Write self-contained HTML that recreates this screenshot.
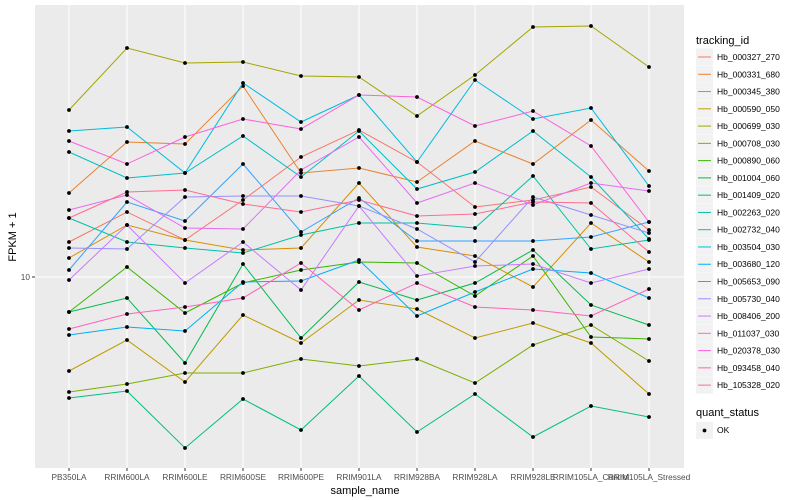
<!DOCTYPE html>
<html><head><meta charset="utf-8"><style>
body{margin:0;background:#fff;}
svg{display:block;font-family:"Liberation Sans",sans-serif;}
</style></head><body>
<svg id="chart" width="800" height="500">
<rect x="35" y="5" width="649" height="463" fill="#ebebeb"/>
<g id="grid"></g><g id="series"></g><g id="xaxis"></g><g id="yaxis"></g><g id="legend"></g>
<text x="365" y="494" text-anchor="middle" font-size="11" fill="#000">sample_name</text>
<text transform="translate(16,237) rotate(-90)" text-anchor="middle" font-size="11" fill="#000">FPKM + 1</text>
</svg>
<script>
const categories=["PB350LA","RRIM600LA","RRIM600LE","RRIM600SE","RRIM600PE","RRIM901LA","RRIM928BA","RRIM928LA","RRIM928LE","RRIM105LA_Control","RRIM105LA_Stressed"];
const seriesNames=["Hb_000327_270","Hb_000331_680","Hb_000345_380","Hb_000590_050","Hb_000699_030","Hb_000708_030","Hb_000890_060","Hb_001004_060","Hb_001409_020","Hb_002263_020","Hb_002732_040","Hb_003504_030","Hb_003680_120","Hb_005653_090","Hb_005730_040","Hb_008406_200","Hb_011037_030","Hb_020378_030","Hb_093458_040","Hb_105328_020"];
const seriesColors=["#F8766D","#EA8331","#D89000","#C09B00","#A3A500","#7CAE00","#39B600","#00BB4E","#00BF7D","#00C1A3","#00BFC4","#00BAE0","#00B0F6","#35A2FF","#9590FF","#C77CFF","#E76BF3","#FA62DB","#FF62BC","#FF6C91"];
// log10(FPKM + 1) values per series
const s000327=[1.175,1.325,1.185,1.385,1.60,1.735,1.575,1.35,1.385,1.45,1.235];
const s000331=[1.42,1.675,1.665,1.955,1.52,1.545,1.475,1.68,1.565,1.785,1.53];
const s000345=[1.095,1.26,1.185,1.135,1.145,1.47,1.15,1.105,0.95,1.27,1.075];
const s000590=[0.53,0.685,0.475,0.81,0.67,0.885,0.84,0.695,0.77,0.67,0.415];
const s000699=[1.835,2.145,2.07,2.075,2.005,2.0,1.805,2.01,2.25,2.255,2.05];
const s000708=[0.425,0.465,0.52,0.52,0.59,0.555,0.59,0.47,0.66,0.76,0.58];
const s000890=[0.825,1.05,0.82,0.97,1.035,1.075,1.07,0.905,1.105,0.70,0.69];
const s001004=[0.825,0.895,0.57,1.065,0.695,0.975,0.885,0.97,1.135,0.86,0.76];
const s001409=[0.395,0.43,0.145,0.39,0.235,0.505,0.225,0.415,0.2,0.355,0.30];
const s002263=[1.295,1.175,1.145,1.12,1.21,1.27,1.27,1.245,1.505,1.14,1.185];
const s002732=[1.625,1.495,1.52,1.705,1.50,1.73,1.44,1.525,1.73,1.50,1.19];
const s003504=[1.73,1.75,1.52,1.97,1.775,1.91,1.575,1.985,1.79,1.845,1.455];
const s003680=[0.71,0.75,0.73,0.975,0.98,1.085,0.805,0.925,1.04,1.02,0.895];
const s005653=[1.035,1.375,1.28,1.565,1.225,1.395,1.18,1.18,1.18,1.20,1.275];
const s005730=[1.145,1.14,1.40,1.405,1.405,1.355,1.24,1.075,1.40,1.31,1.22];
const s008406=[0.985,1.26,0.97,1.175,0.935,1.355,1.005,1.055,1.065,0.97,1.04];
const s011037=[1.335,1.41,1.245,1.24,1.535,1.70,1.37,1.47,1.36,1.47,1.43];
const s020378=[1.68,1.565,1.70,1.79,1.74,1.91,1.90,1.755,1.83,1.655,1.275];
const s093458=[0.74,0.815,0.85,0.895,1.07,0.835,0.97,0.85,0.835,0.805,0.94];
const s105328=[1.295,1.425,1.435,1.365,1.325,1.385,1.305,1.315,1.375,1.37,1.125];
const yTicks=[1];
const yTickLabels=["10"];

const seriesValues=[s000327,s000331,s000345,s000590,s000699,s000708,s000890,s001004,s001409,s002263,s002732,s003504,s003680,s005653,s005730,s008406,s011037,s020378,s093458,s105328];
const NS="http://www.w3.org/2000/svg";
function xScale(i){return 69+i*58;}
function yScale(l){return 277-(l-1)*200;}
function mk(tag,attrs,parent){const e=document.createElementNS(NS,tag);for(const k in attrs)e.setAttribute(k,attrs[k]);parent.appendChild(e);return e;}
const grid=document.getElementById('grid');
categories.forEach((c,i)=>{
  const l=mk('line',{x1:xScale(i),x2:xScale(i),y1:5,y2:468,stroke:'#fff','stroke-width':1.1},grid);
  
  
});
yTicks.forEach(t=>{
  const l=mk('line',{x1:35,x2:684,y1:yScale(t),y2:yScale(t),stroke:'#fff','stroke-width':1.1},grid);
  
  
});
const sg=document.getElementById('series');
seriesValues.forEach((vals,si)=>{
  const g=mk('g',{},sg);
  
  
  const pts=vals.map((v,i)=>xScale(i)+','+yScale(v)).join(' ');
  const pl=mk('polyline',{points:pts,fill:'none',stroke:seriesColors[si],'stroke-width':1},g);
  
  
  vals.forEach((v,i)=>{
    const r=mk('circle',{cx:xScale(i),cy:yScale(v),r:1.9,fill:'#000'},g);
    
    
  });
});
const xa=document.getElementById('xaxis');
categories.forEach((c,i)=>{
  const tk=mk('line',{x1:xScale(i),x2:xScale(i),y1:468,y2:471,stroke:'#333'},xa);
  
  
  const t=mk('text',{x:xScale(i),y:480,'text-anchor':'middle','font-size':8.3,fill:'#4d4d4d'},xa);
  t.textContent=c;
  
  
});
const ya=document.getElementById('yaxis');
yTicks.forEach((t,i)=>{
  const tk=mk('line',{x1:32,x2:35,y1:yScale(t),y2:yScale(t),stroke:'#333'},ya);
  
  
  const tx=mk('text',{x:30,y:yScale(t)+3,'text-anchor':'end','font-size':8.3,fill:'#4d4d4d'},ya);
  tx.textContent=yTickLabels[i];
  
  
});
const lg=document.getElementById('legend');
const lt=mk('text',{x:696,y:44,'font-size':11,fill:'#000'},lg);
lt.textContent='tracking_id';


seriesNames.forEach((n,i)=>{
  const cy=57+i*17.27;
  const g=mk('g',{},lg);
  
  
  mk('rect',{x:696,y:cy-8.5,width:17,height:17,fill:'#f2f2f2'},g);
  mk('line',{x1:698,x2:711,y1:cy,y2:cy,stroke:seriesColors[i],'stroke-width':1},g);
  const t=mk('text',{x:717,y:cy+3,'font-size':8.5,fill:'#000'},g);
  t.textContent=n;
});
const qt=mk('text',{x:696,y:416,'font-size':11,fill:'#000'},lg);
qt.textContent='quant_status';


const qg=mk('g',{},lg);


mk('rect',{x:696,y:422,width:17,height:17,fill:'#f2f2f2'},qg);
mk('circle',{cx:704.5,cy:430.5,r:1.9,fill:'#000'},qg);
const ok=mk('text',{x:717,y:433,'font-size':8.5,fill:'#000'},qg);
ok.textContent='OK';
</script>
</body></html>
